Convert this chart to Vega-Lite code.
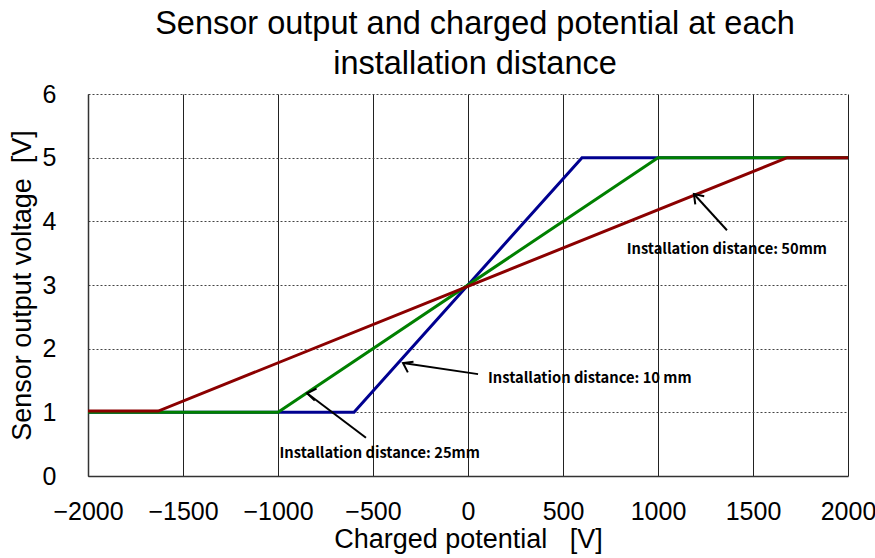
{
  "$schema": "https://vega.github.io/schema/vega-lite/v6.json",
  "width": 760,
  "height": 382,
  "autosize": {"type": "none"},
  "padding": {"left": 88, "top": 94, "right": 27, "bottom": 82},
  "background": "white",
  "config": {
    "view": {"stroke": null},
    "font": "Liberation Sans"
  },
  "title": {
    "text": ["Sensor output and charged potential at each", "installation distance"],
    "fontSize": 32.5,
    "fontWeight": "normal",
    "font": "Liberation Sans",
    "color": "black",
    "lineHeight": 40,
    "anchor": "middle",
    "offset": 2,
    "dx": 7
  },
  "datasets": {
    "curves": [
      {"series": "10mm", "v": -2000, "out": 1},
      {"series": "10mm", "v": -600, "out": 1},
      {"series": "10mm", "v": 600, "out": 5},
      {"series": "10mm", "v": 2000, "out": 5},
      {"series": "25mm", "v": -2000, "out": 1},
      {"series": "25mm", "v": -1000, "out": 1},
      {"series": "25mm", "v": 1000, "out": 5},
      {"series": "25mm", "v": 2000, "out": 5},
      {"series": "50mm", "v": -2000, "out": 1.02},
      {"series": "50mm", "v": -1630, "out": 1.02},
      {"series": "50mm", "v": 1680, "out": 5},
      {"series": "50mm", "v": 2000, "out": 5}
    ],
    "notes": [
      {"label": "Installation distance: 50mm", "tx": 1363, "ty": 3.86, "hx": 1189, "hy": 4.43, "lx": 835, "ly": 3.55},
      {"label": "Installation distance: 10 mm", "tx": 53, "ty": 1.6, "hx": -342, "hy": 1.775, "lx": 105, "ly": 1.52},
      {"label": "Installation distance: 25mm", "tx": -537, "ty": 0.6, "hx": -847, "hy": 1.3, "lx": -992, "ly": 0.345}
    ]
  },
  "layer": [
    {
      "data": {"name": "curves"},
      "mark": {"type": "line", "strokeWidth": 3},
      "encoding": {
        "x": {
          "field": "v", "type": "quantitative",
          "scale": {"domain": [-2000, 2000], "nice": false, "zero": false},
          "axis": {
            "values": [-2000, -1500, -1000, -500, 0, 500, 1000, 1500, 2000],
            "format": "d",
            "labelFlush": false,
            "labelOverlap": false,
            "title": "Charged potential\u00a0\u00a0\u00a0[V]",
            "titleFontSize": 27,
            "titleFontWeight": "normal",
            "titleColor": "black",
            "titlePadding": 2,
            "labelFontSize": 25,
            "labelColor": "black",
            "labelPadding": 23,
            "ticks": false,
            "domainColor": "#333333",
            "domainWidth": 1.5,
            "grid": true,
            "gridColor": "#222222",
            "gridWidth": 1,
            "gridOpacity": 1
          }
        },
        "y": {
          "field": "out", "type": "quantitative",
          "scale": {"domain": [0, 6], "nice": false},
          "axis": {
            "values": [0, 1, 2, 3, 4, 5, 6],
            "format": "d",
            "labelFlush": false,
            "labelOverlap": false,
            "title": "Sensor output voltage\u00a0\u00a0[V]",
            "titleFontSize": 27,
            "titleFontWeight": "normal",
            "titleColor": "black",
            "titlePadding": 6,
            "labelFontSize": 25,
            "labelColor": "black",
            "labelPadding": 32,
            "ticks": false,
            "domainColor": "#333333",
            "domainWidth": 1.5,
            "grid": true,
            "gridColor": "#444444",
            "gridDash": [2, 2],
            "gridWidth": 1,
            "gridOpacity": 1
          }
        },
        "color": {
          "field": "series", "type": "nominal",
          "scale": {"domain": ["10mm", "25mm", "50mm"], "range": ["#000090", "#008000", "#8B0000"]},
          "legend": null
        },
        "order": {"field": "v", "type": "quantitative"}
      }
    },
    {
      "data": {"name": "notes"},
      "mark": {"type": "rule", "color": "black", "strokeWidth": 2},
      "encoding": {
        "x": {"field": "tx", "type": "quantitative"},
        "y": {"field": "ty", "type": "quantitative"},
        "x2": {"field": "hx"},
        "y2": {"field": "hy"}
      }
    },
    {
      "data": {"name": "notes"},
      "mark": {"type": "point", "shape": "M-1,-0.7L0,0L-1,0.7", "filled": false, "color": "black", "strokeWidth": 2, "size": 300, "opacity": 1},
      "encoding": {
        "x": {"field": "hx", "type": "quantitative"},
        "y": {"field": "hy", "type": "quantitative"},
        "angle": {
          "field": "label", "type": "nominal",
          "scale": {"domain": ["Installation distance: 50mm", "Installation distance: 10 mm", "Installation distance: 25mm"], "range": [227.5, 188.3, 217.3]},
          "legend": null
        }
      }
    },
    {
      "data": {"name": "notes"},
      "mark": {"type": "text", "align": "left", "baseline": "middle", "font": "Noto Sans CJK JP", "fontWeight": "bold", "fontSize": 14.7, "color": "black"},
      "encoding": {
        "x": {"field": "lx", "type": "quantitative"},
        "y": {"field": "ly", "type": "quantitative"},
        "text": {"field": "label"}
      }
    }
  ]
}
